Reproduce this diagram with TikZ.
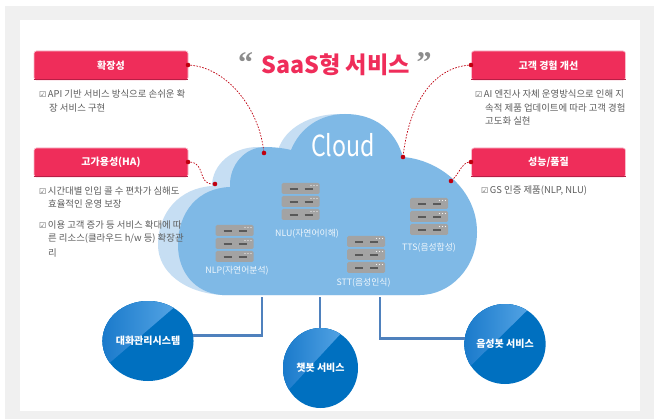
\documentclass[tikz,border=0pt]{standalone}
\usepackage{fontspec}
\setmainfont{Noto Sans CJK KR}
\newfontfamily\symfont{DejaVu Sans}
\newfontfamily\quotefont{Liberation Serif}
\usetikzlibrary{shapes.geometric,calc}
\definecolor{redmain}{HTML}{EF2D5A}
\definecolor{reddark}{HTML}{B81E45}
\definecolor{redhalo}{HTML}{F9BCCB}
\definecolor{dotred}{HTML}{C00010}
\definecolor{cloudmain}{HTML}{7FB9E6}
\definecolor{cloudlight}{HTML}{C6DEF3}
\definecolor{frame}{HTML}{F0F0F0}
\definecolor{bodygray}{HTML}{5C5C5C}
\definecolor{linkblue}{HTML}{4F81BD}
\definecolor{ballblue}{HTML}{0070C0}
\definecolor{balllo}{HTML}{1A7ACB}
\definecolor{ballhi}{HTML}{62AEEA}
\definecolor{srvgray}{HTML}{A3A3A3}
\newcommand{\chk}{{\symfont\fontsize{8}{8}\selectfont ☑}}
\tikzset{
  x=1pt,y=-1pt,
  redbox/.style={draw=redhalo,line width=.7pt,fill=redmain,rounded corners=2.5pt,minimum width=154pt,minimum height=29pt,inner sep=0pt,text=white,font=\fontsize{10}{10}\selectfont\bfseries},
  bodytext/.style={anchor=west,inner sep=0pt,text=bodygray,font=\fontsize{9.4}{10}\selectfont},
  srvlabel/.style={inner sep=0pt,text=white!88!cloudmain,font=\fontsize{8.8}{10}\selectfont},
  dotlink/.style={dotred,line width=.7pt,dash pattern=on 1.6pt off 1.4pt},
  enddot/.style={circle,fill=dotred,inner sep=0pt,minimum size=4.6pt},
  pipe/.style={linkblue,line width=2.6pt},
  ball/.style={ellipse,inner sep=0pt,minimum width=75pt,minimum height=80pt,fill=ballblue,text=white,font=\fontsize{10}{10}\selectfont\bfseries,
    path picture={\fill[left color=balllo,right color=ballhi]
      (path picture bounding box.north west) -- ([xshift=-12pt]path picture bounding box.north east) -- ([yshift=12pt]path picture bounding box.south west) -- cycle;}},
  srvunit/.pic={
    \fill[srvgray,rounded corners=1.5pt] (0,0) rectangle (38,11);
    \draw[black!65,line width=1.2pt] (8,6) -- (16,6) (23,6) -- (31,6);
    \fill[white!85!srvgray] (29.5,2.5) circle (.7) (32.5,2.5) circle (.7) (35.5,2.5) circle (.7);
  },
  srvstack/.pic={
    \pic at (0,0) {srvunit};
    \pic at (0,13) {srvunit};
    \pic at (0,26) {srvunit};
  }
}
\begin{document}
\begin{tikzpicture}
\useasboundingbox (0,0) rectangle (655,419);
\fill[white] (0,0) rectangle (655,419);
\fill[frame] (5,6) rectangle (654,419);
\fill[white] (20,20) rectangle (640,411);
% cloud
\fill[cloudlight] (222,295) .. controls (185,293) and (158,272) .. (158,245)
  .. controls (158,212) and (180,188) .. (212,186)
  .. controls (212,165) and (232,147) .. (258,147)
  -- (278,150) .. controls (285,128) and (310,114) .. (340,114)
  -- (420,295) -- cycle;
\fill[cloudmain] (222,295) .. controls (195,293) and (178,272) .. (178,245)
  .. controls (178,212) and (198,188) .. (230,187)
  .. controls (229,165) and (245,147) .. (265,147)
  .. controls (273,147) and (283,148) .. (291,150)
  .. controls (300,128) and (320,114) .. (345,114)
  .. controls (375,114) and (395,130) .. (403,157)
  .. controls (440,160) and (477,190) .. (477,232)
  .. controls (477,268) and (450,295) .. (420,295) -- cycle;
\node[inner sep=0pt,text=white,font=\fontsize{29}{29}\selectfont,xscale=.8,transform shape] (cloudtitle) at (343,145) {Cloud};
% title
\node[inner sep=0pt,text=redmain,font=\fontsize{23.2}{24}\selectfont\bfseries] (title) at (335.5,65) {SaaS형 서비스};
\node[inner sep=0pt,text=black!45,font=\quotefont\fontsize{30}{30}\selectfont\bfseries] (ql) at (245.5,63) {“};
\node[inner sep=0pt,text=black!45,font=\quotefont\fontsize{30}{30}\selectfont\bfseries] (qr) at (424,63) {”};
% header boxes
\node[redbox] (h1) at (111,65.5) {확장성};
\node[redbox] (h2) at (111,162.5) {고가용성(HA)};
\node[redbox] (h3) at (548.5,65.5) {고객 경험 개선};
\node[redbox] (h4) at (548.5,162.5) {성능/품질};
\foreach \n in {h1,h2,h3,h4}{
  \draw[reddark,line width=1.5pt] ([yshift=.6pt]\n.south west) -- ([yshift=.6pt]\n.south east);
}
% body text
\node[bodytext] (t1a) at (39,94) {\chk\,API 기반 서비스 방식으로 손쉬운 확};
\node[bodytext] (t1b) at (49,108) {장 서비스 구현};
\node[bodytext] (t2a) at (39,191) {\chk\,시간대별 인입 콜 수 편차가 심해도};
\node[bodytext] (t2b) at (48,204) {효율적인 운영 보장};
\node[bodytext] (t3a) at (39,225) {\chk\,이용 고객 증가 등 서비스 확대에 따};
\node[bodytext] (t3b) at (48,239) {른 리소스(클라우드 h/w 등) 확장관};
\node[bodytext] (t3c) at (48,253) {리};
\node[bodytext] (t4a) at (475,94) {\chk\,AI 엔진사 자체 운영방식으로 인해 지};
\node[bodytext] (t4b) at (485,108) {속적 제품 업데이트에 따라 고객 경험};
\node[bodytext] (t4c) at (485,121) {고도화 실현};
\node[bodytext] (t5a) at (481,191) {\chk\,GS 인증 제품(NLP, NLU)};
% servers
\pic at (215.5,225) {srvstack};
\pic at (281.5,183) {srvstack};
\pic at (347,236) {srvstack};
\pic at (410,198) {srvstack};
\node[srvlabel] (s1) at (237,271) {NLP(자연어분석)};
\node[srvlabel] (s2) at (307,234) {NLU(자연어이해)};
\node[srvlabel] (s3) at (363.5,283) {STT(음성인식)};
\node[srvlabel] (s4) at (429,248) {TTS(음성합성)};
% dotted leaders
\node[enddot] (d1) at (188,65) {};
\node[enddot] (e1) at (264,153) {};
\node[enddot] (d2) at (188,162) {};
\node[enddot] (e2) at (215,184) {};
\node[enddot] (d3) at (471,65) {};
\node[enddot] (e3) at (403,157) {};
\node[enddot] (d4) at (471,162) {};
\node[enddot] (e4) at (451,181) {};
\draw[dotlink] (d1) .. controls (225,68) and (258,105) .. (e1);
\draw[dotlink] (d2) .. controls (205,163) and (198,184) .. (e2);
\draw[dotlink] (d3) .. controls (435,68) and (410,100) .. (e3);
\draw[dotlink] (d4) .. controls (462,163) and (458,175) .. (e4);
% service balls
\node[ball] (b1) at (148,341) {대화관리시스템};
\node[ball] (b2) at (320.5,368) {챗봇 서비스};
\node[ball] (b3) at (505,344) {음성봇 서비스};
\coordinate (c1) at (262,297);
\coordinate (c2) at (320,297);
\coordinate (c3) at (380,297);
\draw[pipe] (c1) |- (b1.7);
\draw[pipe] (c2) -- (c2 |- b2.north);
\draw[pipe] (c3) |- (b3.172);
\end{tikzpicture}
\end{document}
